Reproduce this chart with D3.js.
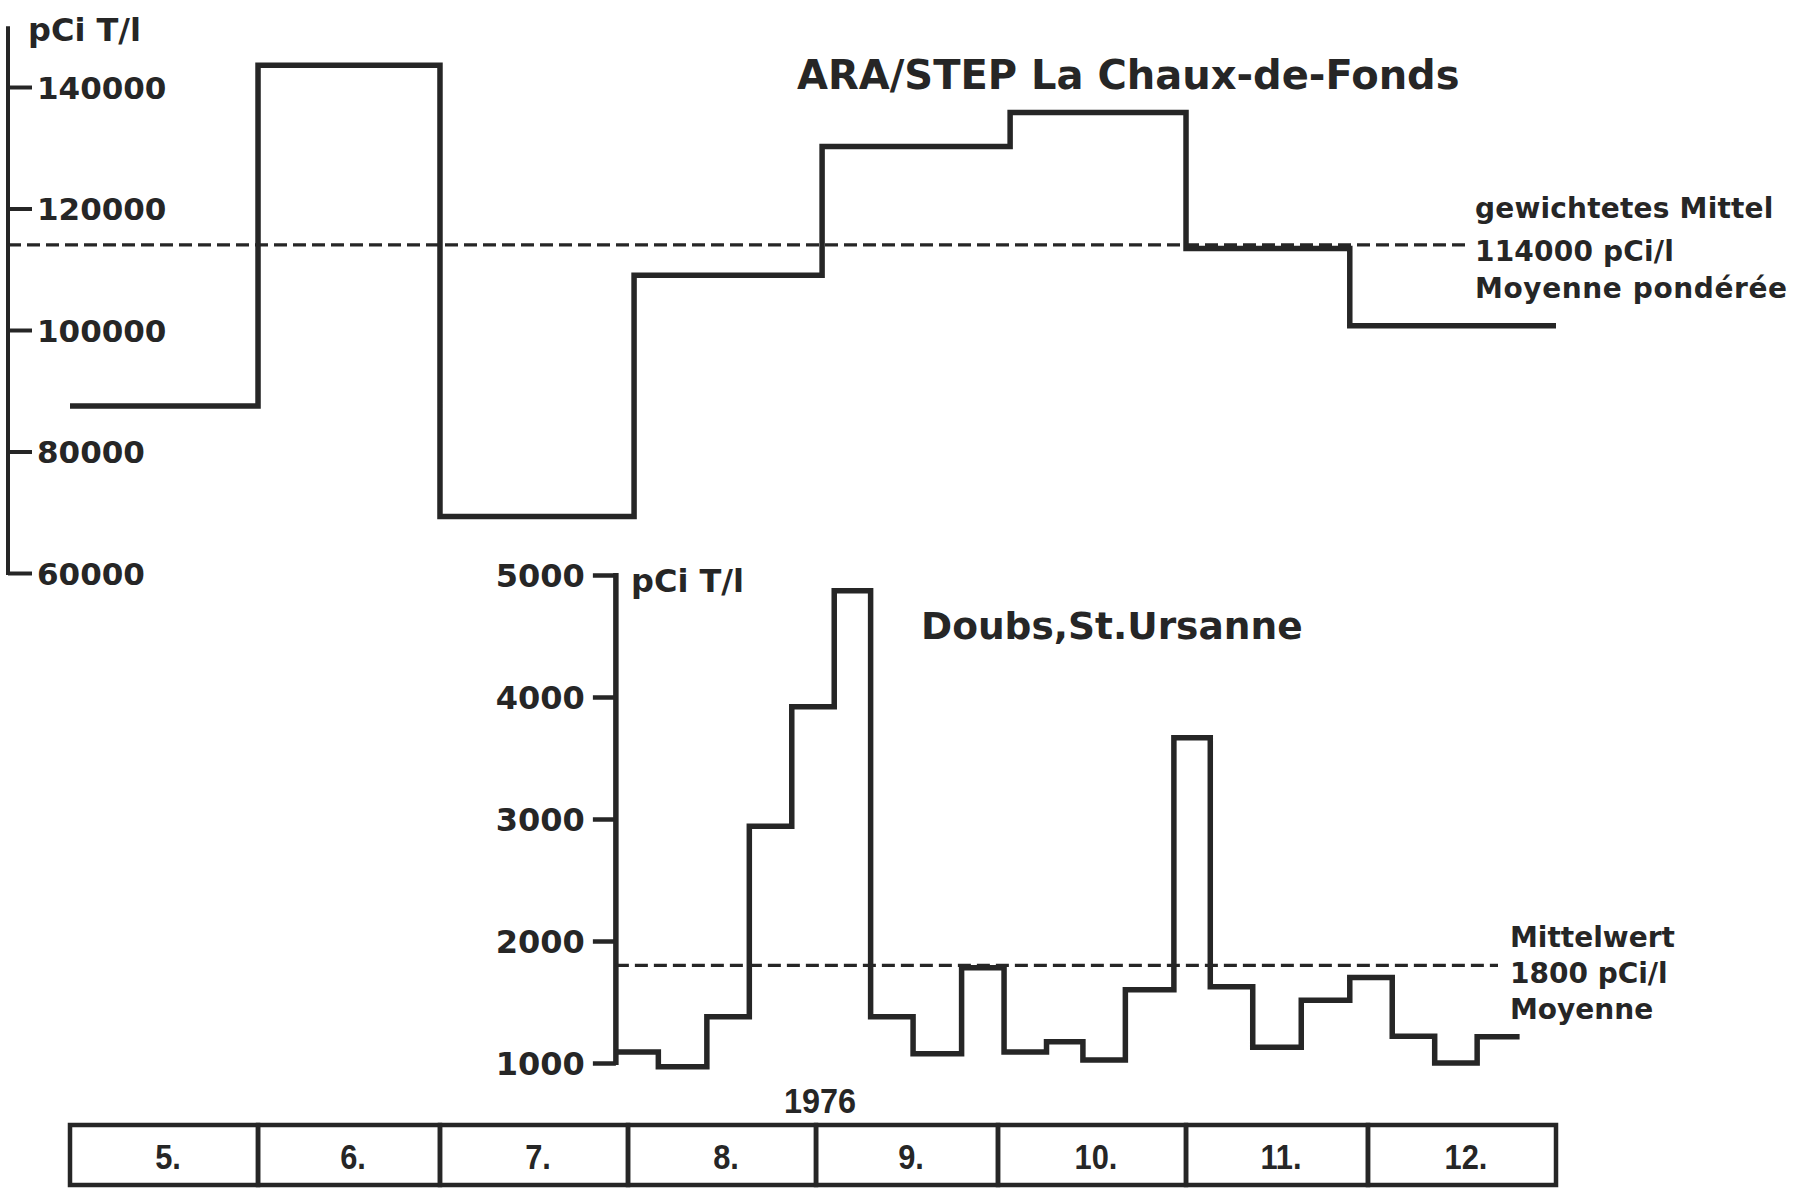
<!DOCTYPE html>
<html>
<head>
<meta charset="utf-8">
<script src="https://cdn.jsdelivr.net/npm/d3@7"></script>
<style>
  html, body { margin: 0; padding: 0; background: #ffffff; }
  svg { display: block; }
  text { fill: #262626; }
</style>
</head>
<body>
<svg id="chart" width="1798" height="1189"></svg>
<script>
// ---------------- data ----------------
const monthLabels = ["5.", "6.", "7.", "8.", "9.", "10.", "11.", "12."];
const yearLabel = "1976";

// ARA/STEP La Chaux-de-Fonds : sampling periods (start dates) and tritium values (pCi T/l)
const araStarts = ["1976-05-01", "1976-06-01", "1976-07-01", "1976-08-02", "1976-09-02",
                   "1976-10-03", "1976-11-01", "1976-11-28"];
const araEnd = "1977-01-01";
const araValues = [87500, 143600, 69300, 109000, 130200, 135800, 113400, 100700];
const araMean = 114000;
const araTicks = [60000, 80000, 100000, 120000, 140000];

// Doubs, St. Ursanne : weekly sampling periods and values (pCi T/l)
const doubsStarts = ["1976-07-30", "1976-08-06", "1976-08-14", "1976-08-21", "1976-08-28",
                     "1976-09-04", "1976-09-10", "1976-09-17", "1976-09-25", "1976-10-02",
                     "1976-10-09", "1976-10-15", "1976-10-22", "1976-10-30", "1976-11-05",
                     "1976-11-12", "1976-11-20", "1976-11-28", "1976-12-05", "1976-12-12",
                     "1976-12-19"];
const doubsEnd = "1976-12-26";
const doubsValues = [1090, 970, 1380, 2940, 3920, 4870, 1380, 1075, 1780, 1090,
                     1175, 1025, 1600, 3665, 1625, 1130, 1515, 1700, 1220, 1000, 1215];
const doubsMean = 1800;
const doubsTicks = [1000, 2000, 3000, 4000, 5000];

// ---------------- drawing ----------------
const ink = "#262626";
const bold = "'DejaVu Sans', 'Noto Sans', sans-serif";
const narrow = "'Liberation Sans', Arial, sans-serif";
const parse = d3.timeParse("%Y-%m-%d");

const svg = d3.select("#chart");
svg.append("rect").attr("width", 1798).attr("height", 1189).attr("fill", "#ffffff");

const x = d3.scaleTime()
  .domain([new Date(1976, 4, 1), new Date(1977, 0, 1)])
  .range([70, 1556]);

const yTop = d3.scaleLinear().domain([60000, 140000]).range([573, 87]);
const yBot = d3.scaleLinear().domain([1000, 5000]).range([1063, 575]);

function stepPoints(starts, end, values) {
  const pts = starts.map((s, i) => [parse(s), values[i]]);
  pts.push([parse(end), values[values.length - 1]]);
  return pts;
}

// ---- top panel axis ----
const topAxisX = 8;
const gTopAxis = svg.append("g").attr("transform", `translate(${topAxisX},0)`)
  .call(d3.axisRight(yTop).tickValues(araTicks).tickSize(24).tickPadding(5)
        .tickFormat(d3.format("d")));
gTopAxis.select(".domain").remove();
gTopAxis.selectAll(".tick line").attr("stroke", ink).attr("stroke-width", 4);
gTopAxis.selectAll(".tick text")
  .attr("font-family", bold).attr("font-weight", "bold").attr("font-size", 31)
  .attr("fill", ink).attr("dy", "0.36em");
svg.append("line")
  .attr("x1", topAxisX).attr("x2", topAxisX)
  .attr("y1", yTop(150000)).attr("y2", yTop(60000) + 2)
  .attr("stroke", ink).attr("stroke-width", 4);
svg.append("text").attr("x", 28).attr("y", 41)
  .attr("font-family", bold).attr("font-weight", "bold").attr("font-size", 32)
  .text("pCi T/l");

// ---- top panel mean (dashed) ----
const araLabelX = 1475;
svg.append("line")
  .attr("x1", topAxisX).attr("x2", araLabelX - 4)
  .attr("y1", yTop(araMean)).attr("y2", yTop(araMean))
  .attr("stroke", ink).attr("stroke-width", 3.2).attr("stroke-dasharray", "13,6");

// ---- top panel step line ----
const line = (ys) => d3.line().x(d => x(d[0])).y(d => ys(d[1])).curve(d3.curveStepAfter);
svg.append("path")
  .datum(stepPoints(araStarts, araEnd, araValues))
  .attr("d", line(yTop))
  .attr("fill", "none").attr("stroke", ink).attr("stroke-width", 5.5)
  .attr("stroke-linejoin", "miter");

// titles and labels (top)
svg.append("text").attr("x", 797).attr("y", 89)
  .attr("font-family", bold).attr("font-weight", "bold").attr("font-size", 40)
  .text("ARA/STEP La Chaux-de-Fonds");
const araNote = ["gewichtetes Mittel", d3.format("d")(araMean) + " pCi/l", "Moyenne pondérée"];
svg.append("g").selectAll("text").data(araNote).join("text")
  .attr("x", araLabelX).attr("y", (d, i) => [218, 261, 298][i])
  .attr("font-family", bold).attr("font-weight", "bold").attr("font-size", 28)
  .attr("letter-spacing", (d, i) => i === 2 ? 0.6 : 0.2)
  .text(d => d);

// ---- bottom panel axis ----
const botAxisX = x(parse(doubsStarts[0]));
const gBotAxis = svg.append("g").attr("transform", `translate(${botAxisX},0)`)
  .call(d3.axisLeft(yBot).tickValues(doubsTicks).tickSize(23).tickPadding(8)
        .tickFormat(d3.format("d")));
gBotAxis.select(".domain").remove();
gBotAxis.selectAll(".tick line").attr("stroke", ink).attr("stroke-width", 4.5);
gBotAxis.selectAll(".tick text")
  .attr("font-family", bold).attr("font-weight", "bold").attr("font-size", 32)
  .attr("fill", ink).attr("dy", "0.36em");
svg.append("line")
  .attr("x1", botAxisX).attr("x2", botAxisX)
  .attr("y1", yBot(5000) - 2).attr("y2", yBot(1000) + 2)
  .attr("stroke", ink).attr("stroke-width", 5.5);
svg.append("text").attr("x", 631).attr("y", 592)
  .attr("font-family", bold).attr("font-weight", "bold").attr("font-size", 32)
  .text("pCi T/l");

// ---- bottom panel mean (dashed) ----
const doubsLabelX = 1510;
svg.append("line")
  .attr("x1", botAxisX).attr("x2", doubsLabelX - 12)
  .attr("y1", yBot(doubsMean)).attr("y2", yBot(doubsMean))
  .attr("stroke", ink).attr("stroke-width", 3.2).attr("stroke-dasharray", "13,6");

// ---- bottom panel step line ----
svg.append("path")
  .datum(stepPoints(doubsStarts, doubsEnd, doubsValues))
  .attr("d", line(yBot))
  .attr("fill", "none").attr("stroke", ink).attr("stroke-width", 5.5)
  .attr("stroke-linejoin", "miter");

svg.append("text").attr("x", 921).attr("y", 639)
  .attr("font-family", bold).attr("font-weight", "bold").attr("font-size", 37.5)
  .text("Doubs,St.Ursanne");
const doubsNote = ["Mittelwert", d3.format("d")(doubsMean) + " pCi/l", "Moyenne"];
svg.append("g").selectAll("text").data(doubsNote).join("text")
  .attr("x", doubsLabelX).attr("y", (d, i) => [947, 983, 1019][i])
  .attr("font-family", bold).attr("font-weight", "bold").attr("font-size", 28)
  .text(d => d);

// ---- month boxes ----
const monthStarts = d3.timeMonth.range(new Date(1976, 4, 1), new Date(1977, 0, 1));
const boxTop = 1125, boxBottom = 1185;
const gMonths = svg.append("g");
gMonths.selectAll("rect").data(monthStarts).join("rect")
  .attr("x", d => x(d))
  .attr("y", boxTop)
  .attr("width", d => x(d3.timeMonth.offset(d, 1)) - x(d))
  .attr("height", boxBottom - boxTop)
  .attr("fill", "none").attr("stroke", ink).attr("stroke-width", 4.5);
gMonths.selectAll("text").data(monthStarts).join("text")
  .attr("transform", d => `translate(${(x(d) + x(d3.timeMonth.offset(d, 1))) / 2 + 4},1169) scale(0.88,1)`)
  .attr("text-anchor", "middle")
  .attr("font-family", narrow).attr("font-weight", "bold").attr("font-size", 35)
  .text((d, i) => monthLabels[i]);
svg.append("text")
  .attr("transform", `translate(${x(new Date(1976, 8, 1)) + 4},1113) scale(0.9,1)`)
  .attr("text-anchor", "middle")
  .attr("font-family", narrow).attr("font-weight", "bold").attr("font-size", 36)
  .text(yearLabel);
</script>
</body>
</html>
